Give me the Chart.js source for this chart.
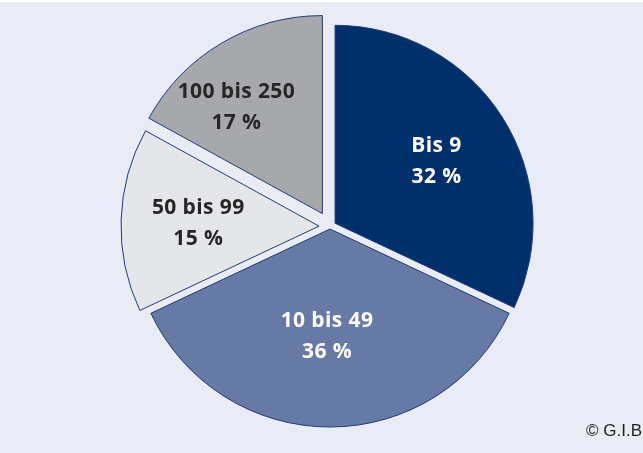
<!DOCTYPE html>
<html><head><meta charset="utf-8">
<script src="https://cdn.jsdelivr.net/npm/chart.js@4.4.1/dist/chart.umd.min.js"></script>
<style>
html,body{margin:0;padding:0;background:#ffffff;}
#wrap{position:relative;width:643px;height:453px;overflow:hidden;}
canvas{display:block;}
#copy{position:absolute;right:1px;top:421px;font:17px "Liberation Sans",Arial,sans-serif;color:#1e1e1e;}
</style>
</head><body>
<div id="wrap"><canvas id="c" width="643" height="453"></canvas><div id="copy">© G.I.B</div></div>
<script>
const categories = ['Bis 9', '10 bis 49', '50 bis 99', '100 bis 250'];
const shares = [32, 36, 15, 17];
const percentLabels = ['32 %', '36 %', '15 %', '17 %'];

const sliceColors = ['#00306b', '#6779a5', '#e5e6e9', '#a7a8ac'];
const textColors = ['#ffffff', '#ffffff', '#262626', '#262626'];
const explode = [6, 2.5, 11, 15];
const labelRadius = [0.60, 0.545, 0.61, 0.69];
const labelAngleShift = [1, 1.6, -0.4, -8.4];

const bgPlugin = {
  id: 'bg',
  beforeDraw(chart) {
    const ctx = chart.ctx;
    ctx.save();
    ctx.fillStyle = '#ffffff';
    ctx.fillRect(0, 0, chart.width, chart.height);
    ctx.fillStyle = '#e9ecf4';
    ctx.fillRect(0, 2, chart.width, chart.height - 2);
    ctx.restore();
  }
};

const explodePlugin = {
  id: 'explode',
  afterDatasetUpdate(chart, args) {
    args.meta.data.forEach((arc, i) => {
      const mid = (arc.startAngle + arc.endAngle) / 2;
      arc.x += Math.cos(mid) * explode[i];
      arc.y += Math.sin(mid) * explode[i];
    });
  }
};

const labelPlugin = {
  id: 'labels',
  afterDatasetsDraw(chart) {
    const ctx = chart.ctx;
    const meta = chart.getDatasetMeta(0);
    ctx.save();
    ctx.font = '700 21px "Open Sans", sans-serif';
    ctx.textAlign = 'center';
    ctx.textBaseline = 'middle';
    try { ctx.letterSpacing = '0.4px'; } catch (e) {}
    meta.data.forEach((arc, i) => {
      const mid = (arc.startAngle + arc.endAngle) / 2 + labelAngleShift[i] * Math.PI / 180;
      const r = arc.outerRadius * labelRadius[i];
      const x = arc.x + Math.cos(mid) * r;
      const y = arc.y + Math.sin(mid) * r;
      ctx.fillStyle = textColors[i];
      ctx.fillText(categories[i], x, y - 15.5);
      ctx.fillText(percentLabels[i], x, y + 15.5);
    });
    ctx.restore();
  }
};

new Chart(document.getElementById('c'), {
  type: 'pie',
  data: {
    labels: categories,
    datasets: [{
      data: shares,
      backgroundColor: sliceColors,
      borderColor: '#1f3d78',
      borderWidth: 1
    }]
  },
  options: {
    responsive: false,
    animation: false,
    events: [],
    radius: 198,
    layout: { padding: { left: 17, bottom: 0 } },
    plugins: { legend: { display: false }, tooltip: { enabled: false } }
  },
  plugins: [bgPlugin, explodePlugin, labelPlugin]
});
</script>
</body></html>
